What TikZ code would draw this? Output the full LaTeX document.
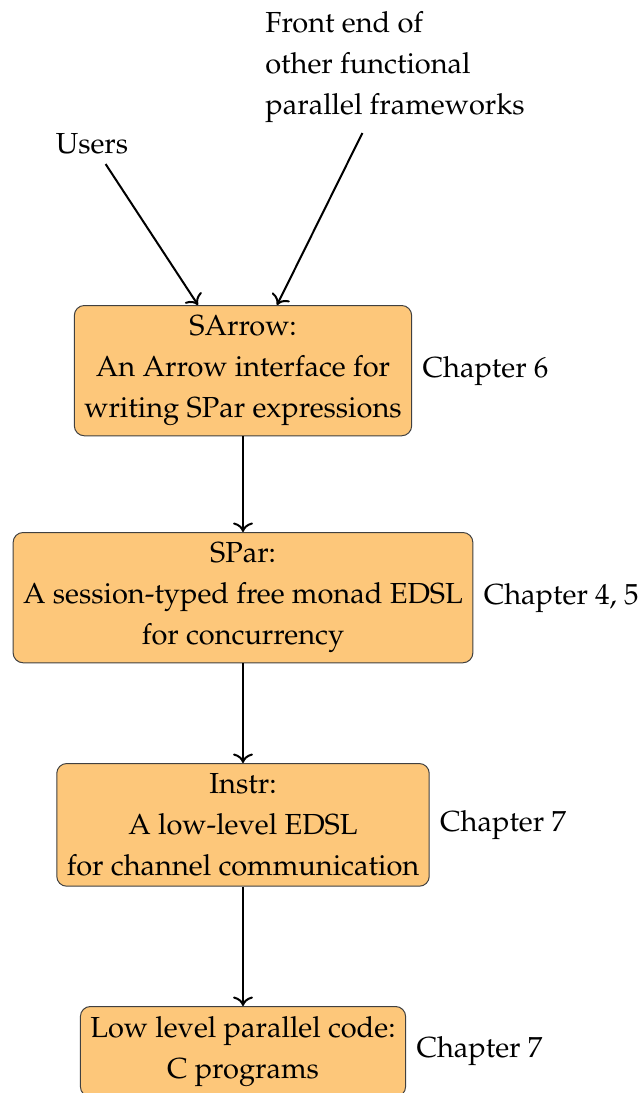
\documentclass[tikz,border=0pt]{standalone}
\usepackage[T1]{fontenc}
\usepackage{mathpazo}
\usetikzlibrary{calc,arrows.meta}
\definecolor{boxfill}{RGB}{253,199,122}
\begin{document}
\begin{tikzpicture}[x=0.5pt, y=-0.5pt,
  every node/.style={font=\fontsize{14.5}{20.5}\selectfont, inner sep=5pt},
  layer/.style={draw=black!75, line width=0.5pt, fill=boxfill,
                rounded corners=5pt, align=center, anchor=north},
  chap/.style={anchor=west},
  flow/.style={-{To[scale=1.25]}, line width=1pt}]
\useasboundingbox (0,0) rectangle (642,1093);

% the four layers of the stack
\node[layer] (sarrow) at (243,305) {SArrow:\\An Arrow interface for\\writing SPar expressions};
\node[layer] (spar)   at (243,532) {SPar:\\A session-typed free monad EDSL\\for concurrency};
\node[layer] (instr)  at (243,763) {Instr:\\A low-level EDSL\\for channel communication};
\node[layer] (lowc)   at (243,1006) {Low level parallel code:\\C programs};

% chapter references
\node[chap] (ch6)  at (sarrow.east) {Chapter 6};
\node[chap] (ch45) at (spar.east)   {Chapter 4, 5};
\node[chap] (ch7a) at (instr.east)  {Chapter 7};
\node[chap] (ch7b) at (lowc.east)   {Chapter 7};

% entry points
\node[anchor=base] (users) at (92,153) {Users};
\node[align=left, anchor=south west] (front) at (255,133)
  {Front end of\\other functional\\parallel frameworks};

% connectors
\draw[flow] (users) -- ($(sarrow.north)+(-45,0)$);
\draw[flow] (front) -- ($(sarrow.north)+(34,0)$);
\draw[flow] (sarrow.south) -- (spar.north);
\draw[flow] (spar.south) -- (instr.north);
\draw[flow] (instr.south) -- (lowc.north);
\end{tikzpicture}
\end{document}
